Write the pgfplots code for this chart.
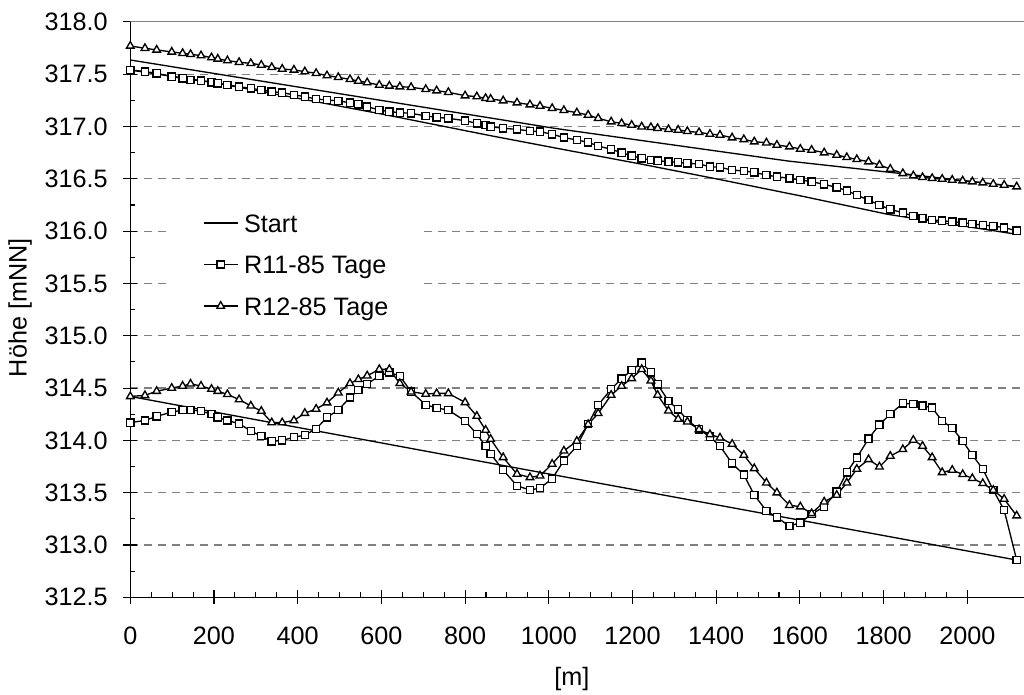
\documentclass[border=0pt]{standalone}
\usepackage{fontspec}
\setmainfont{Liberation Sans}
\usepackage{pgfplots}
\usepackage{pgfplotstable}
\pgfplotsset{compat=1.18}
\pgfplotstableread{
x r11lo r12lo r11hi r12hi
0 314.17 314.42 317.541 317.770
35 314.19 314.43 317.525 317.748
63 314.23 314.47 317.509 317.732
99 314.27 314.50 317.477 317.713
125 314.29 314.52 317.461 317.700
144 314.29 314.54 317.445 317.690
169 314.28 314.52 317.439 317.678
194 314.25 314.49 317.423 317.659
209 314.22 314.47 317.413 317.646
232 314.19 314.44 317.397 317.630
260 314.16 314.39 317.381 317.614
288 314.09 314.33 317.365 317.604
313 314.04 314.28 317.350 317.588
338 313.99 314.17 317.333 317.566
363 314.00 314.17 317.324 317.550
391 314.03 314.19 317.302 317.541
417 314.05 314.26 317.286 317.525
444 314.11 314.30 317.263 317.509
470 314.22 314.36 317.254 317.487
497 314.29 314.455 317.244 317.470
525 314.41 314.545 317.228 317.451
545 314.48 314.583 317.212 317.435
566 314.54 314.618 317.190 317.420
595 314.615 314.679 317.158 317.397
619 314.65 314.679 317.142 317.388
644 314.615 314.545 317.133 317.381
671 314.465 314.465 317.126 317.375
706 314.34 314.443 317.101 317.356
732 314.31 314.449 317.088 317.343
760 314.29 314.449 317.078 317.327
800 314.185 314.363 317.056 317.295
828 314.06 314.232 317.030 317.286
849 313.946 314.099 317.015 317.270
861 313.87 314.012 316.999 317.263
891 313.716 313.837 316.983 317.247
924 313.566 313.678 316.973 317.228
955 313.525 313.646 316.957 317.209
979 313.544 313.662 316.951 317.196
1008 313.633 313.774 316.926 317.174
1036 313.806 313.900 316.895 317.155
1067 313.946 313.993 316.871 317.132
1094 314.156 314.153 316.849 317.110
1118 314.338 314.258 316.814 317.078
1149 314.49 314.433 316.782 317.046
1174 314.59 314.519 316.750 317.030
1198 314.672 314.592 316.721 317.014
1222 314.742 314.679 316.696 316.998
1244 314.65 314.57 316.680 316.992
1260 314.535 314.433 316.673 316.983
1286 314.376 314.283 316.664 316.973
1309 314.296 314.204 316.657 316.967
1331 314.194 314.178 316.648 316.954
1359 314.105 314.105 316.642 316.944
1385 314.035 314.057 316.616 316.928
1409 313.946 314.025 316.610 316.919
1438 313.78 313.965 316.584 316.893
1466 313.672 313.86 316.575 316.877
1491 313.477 313.732 316.562 316.855
1520 313.327 313.595 316.536 316.845
1545 313.264 313.50 316.520 316.823
1575 313.181 313.38 316.505 316.807
1601 313.213 313.366 316.489 316.785
1628 313.295 313.302 316.473 316.775
1658 313.366 313.413 316.447 316.750
1688 313.509 313.477 316.418 316.728
1712 313.694 313.595 316.387 316.705
1736 313.834 313.726 316.345 316.686
1764 314.016 313.818 316.297 316.664
1790 314.15 313.748 316.250 316.632
1816 314.252 313.85 316.208 316.594
1846 314.354 313.914 316.176 316.552
1871 314.347 314.003 316.144 316.530
1893 314.331 313.946 316.122 316.514
1916 314.312 313.837 316.106 316.505
1940 314.185 313.694 316.100 316.498
1964 314.118 313.716 316.090 316.489
1989 313.993 313.675 316.081 316.482
2012 313.86 313.637 316.068 316.473
2037 313.726 313.589 316.058 316.463
2062 313.525 313.525 316.049 316.450
2088 313.334 313.439 316.033 316.441
2118 312.856 313.28 316.004 316.425
}\stations
\pgfplotstableread{
x y
0 314.42
1015 313.668
2118 312.856
}\startbed
\pgfplotstableread{
x y
0 317.636
1015 316.982
1572 316.67
1843 316.55
2118 316.425
}\startA
\pgfplotstableread{
x y
0 317.54
200 317.42
400 317.27
600 317.12
864 316.91
1035 316.78
1222 316.64
1400 316.50
1604 316.335
1811 316.16
2118 315.97
}\startB
\newcommand{\chartfont}{\fontsize{18.9}{22}\selectfont}
\begin{document}
\begin{tikzpicture}
\useasboundingbox (-97.725pt,-73.275pt) rectangle (670.275pt,447.975pt);
\begin{axis}[
  scale only axis, width=670.275pt, height=431.55pt,
  xmin=0, xmax=2135.5, ymin=312.5, ymax=318,
  axis x line*=bottom, axis y line*=left,
  axis line style={-, line width=1pt, black},
  xtick={0,200,...,2000}, minor x tick num=3,
  ytick={312.5,313,...,318}, minor y tick num=1,
  tick align=inside, major tick length=10.5pt, minor tick length=3.75pt,
  major x tick style={yshift=-5.25pt},
  major y tick style={xshift=-5.25pt},
  tick style={black, line width=0.8pt},
  ymajorgrids,
  major grid style={gray, line width=0.85pt, dash pattern=on 5.8pt off 4.7pt},
  /pgf/number format/assume math mode=true,
  yticklabel style={/pgf/number format/fixed, /pgf/number format/fixed zerofill, /pgf/number format/precision=1, inner sep=0pt, xshift=-16.7pt},
  xticklabel style={/pgf/number format/1000 sep={}, inner sep=0pt, yshift=-22pt},
  tick label style={font=\chartfont},
  label style={font=\chartfont},
  xlabel={[m]}, ylabel={Höhe [mNN]},
  xlabel style={at={(axis description cs:0.494,-0.142)}, anchor=center},
  ylabel style={at={(axis description cs:-0.1234,0.503)}, anchor=center},
  legend style={at={(axis description cs:0.0411,0.685)}, anchor=north west,
    draw=none, fill=white, inner xsep=27pt, inner ysep=8.2pt, outer sep=0pt,
    row sep=17.6pt, column sep=4.3pt,
    nodes={inner sep=0pt, text height=13.5pt, text depth=0pt},
    font=\chartfont},
  legend cell align=left,
  legend image code/.code={\draw[mark repeat=2,mark phase=2,#1] plot coordinates {(0pt,0pt) (12.75pt,0pt) (25.5pt,0pt)};},
]
\addplot[black, line width=1pt, no marks] table[x=x,y=y] {\startbed};
\addlegendentry{Start}
\addplot[black, line width=1pt, mark=square*, mark size=2.7pt, mark options={fill=white, solid, line width=1pt}] table[x=x,y=r11lo] {\stations};
\addlegendentry{R11-85 Tage}
\addplot[black, line width=1pt, mark=triangle*, mark size=3.3pt, mark options={fill=white, solid, line width=1pt}] table[x=x,y=r12lo] {\stations};
\addlegendentry{R12-85 Tage}
\addplot[black, line width=1pt, no marks, forget plot] table[x=x,y=y] {\startA};
\addplot[black, line width=1pt, no marks, forget plot] table[x=x,y=y] {\startB};
\addplot[black, line width=1pt, mark=square*, mark size=2.7pt, mark options={fill=white, solid, line width=1pt}, forget plot] table[x=x,y=r11hi] {\stations};
\addplot[black, line width=1pt, mark=triangle*, mark size=3.3pt, mark options={fill=white, solid, line width=1pt}, forget plot] table[x=x,y=r12hi] {\stations};
\draw[gray, line width=0.8pt] (rel axis cs:0,1) -- (rel axis cs:1,1);
\end{axis}
\end{tikzpicture}
\end{document}
